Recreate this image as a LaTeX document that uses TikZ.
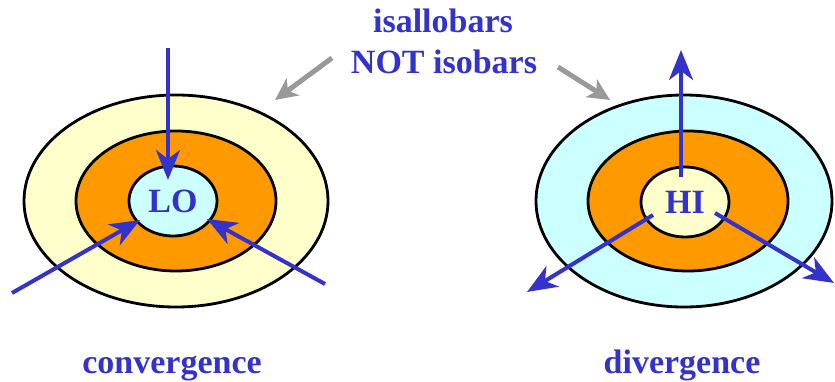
\documentclass[tikz,border=0pt]{standalone}
\usepackage{fontspec}
\setmainfont{Liberation Serif}
\usetikzlibrary{shapes.geometric,arrows.meta,positioning}
\definecolor{paleyellow}{RGB}{255,255,204}
\definecolor{ringorange}{RGB}{255,153,0}
\definecolor{palecyan}{RGB}{204,255,255}
\definecolor{arrowblue}{RGB}{51,51,204}
\definecolor{hintgrey}{RGB}{153,153,153}

\begin{document}
\begin{tikzpicture}[x=1pt,y=1pt,
    ring/.style={ellipse,draw=black,line width=2.8pt,inner sep=0pt},
    lbl/.style={text=arrowblue,font=\fontsize{34}{39}\selectfont\bfseries},
    flow/.style={draw=arrowblue,line width=4pt,-{Stealth[length=30pt,width=24pt,inset=9pt]}},
    hint/.style={draw=hintgrey,line width=5pt,-{Stealth[length=22pt,width=21pt,inset=6pt]}}]
    \useasboundingbox (0,0) rectangle (835,381);

    % Convergence (low)
    \node[ring,fill=paleyellow,minimum width=304pt,minimum height=212pt] (loOut) at (176,180) {};
    \node[ring,fill=ringorange,minimum width=200pt,minimum height=140pt] (loMid) at (176,180) {};
    \node[ring,fill=palecyan,minimum width=88pt,minimum height=70pt,lbl] (lo) at (173,180) {LO};

    \coordinate (loN) at (168,333);
    \coordinate (loNtip) at (168,201);
    \coordinate (loSW) at (12,88);
    \coordinate (loSWtip) at (140,161);
    \coordinate (loSE) at (325,97);
    \coordinate (loSEtip) at (207,162);
    \draw[flow] (loN) -- (loNtip);
    \draw[flow] (loSW) -- (loSWtip);
    \draw[flow] (loSE) -- (loSEtip);

    % Divergence (high)
    \node[ring,fill=palecyan,minimum width=296pt,minimum height=212pt] (hiOut) at (684,180) {};
    \node[ring,fill=ringorange,minimum width=200pt,minimum height=140pt] (hiMid) at (688,180) {};
    \node[ring,fill=paleyellow,minimum width=88pt,minimum height=70pt,lbl] (hi) at (685,179) {HI};

    \coordinate (hiNfoot) at (681,204);
    \coordinate (hiN) at (681,331);
    \coordinate (hiSWfoot) at (653,166);
    \coordinate (hiSW) at (527,89);
    \coordinate (hiSEfoot) at (715,168);
    \coordinate (hiSE) at (834,98);
    \draw[flow] (hiNfoot) -- (hiN);
    \draw[flow] (hiSWfoot) -- (hiSW);
    \draw[flow] (hiSEfoot) -- (hiSE);

    % Title and pointers
    \node[lbl,anchor=base] (ttlA) at (443,348) {isallobars};
    \node[lbl,anchor=base] (ttlB) at (444,307) {NOT isobars};
    \coordinate (hintL) at (332,323);
    \coordinate (hintLtip) at (275,281);
    \coordinate (hintR) at (558,314);
    \coordinate (hintRtip) at (610,281);
    \draw[hint] (hintL) -- (hintLtip);
    \draw[hint] (hintR) -- (hintRtip);

    % Captions
    \node[lbl,anchor=base] (conv) at (172,8) {convergence};
    \node[lbl,anchor=base] (div) at (682,8) {divergence};
\end{tikzpicture}
\end{document}
